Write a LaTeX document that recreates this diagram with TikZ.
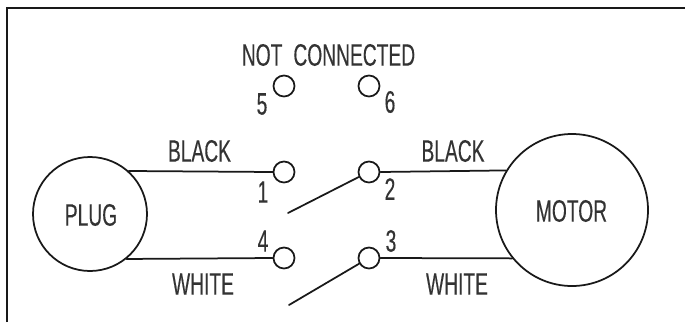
\documentclass[tikz,border=0pt]{standalone}
\usepackage{fontspec}
\setmainfont[FakeStretch=0.62,FakeBold=0.25]{Liberation Sans}
\begin{document}
\begin{tikzpicture}[x=1pt,y=-1pt,
  ink/.style={draw=black!90,line width=1.75pt},
  term/.style={circle,ink,minimum size=21pt,inner sep=0pt},
  device/.style={circle,ink,inner sep=0pt},
  lbl/.style={inner sep=0pt,text=black!80,font=\fontsize{31}{31}\selectfont},
  wire/.style={ink,line cap=round}]
\useasboundingbox (0,0) rectangle (685,322);
\fill[white] (0,0) rectangle (685,322);
\coordinate (fa) at (7,322);
\coordinate (fb) at (7,8);
\coordinate (fc) at (685,8);
\draw[ink] (fa) -- (fb) -- (fc);
\node[device,minimum size=114pt] (plug) at (90,214) {};
\node[device,minimum size=152pt] (motor) at (572,210) {};
\node[term] (t5) at (284,86) {};
\node[term] (t6) at (369,86) {};
\node[term] (t1) at (284,172) {};
\node[term] (t2) at (369,172) {};
\node[term] (t4) at (284,258) {};
\node[term] (t3) at (369,258) {};
\coordinate (s1) at (288,213);
\coordinate (s2) at (289,305);
\draw[wire] (plug.48.6) -- (t1.west);
\draw[wire] (plug.-51.8) -- (t4.west);
\draw[wire] (t2.east) -- (motor.149.6);
\draw[wire] (t3.east) -- (motor.219.8);
\draw[wire] (s1) -- (t2.206.8);
\draw[wire] (s2) -- (t3.210.4);
\node[lbl] (nc) at (328.5,55) {NOT\hspace{11pt}CONNECTED};
\node[lbl] (b1) at (199.5,151) {BLACK};
\node[lbl] (b2) at (453,151) {BLACK};
\node[lbl] (w1) at (203,284) {WHITE};
\node[lbl] (w2) at (457,284) {WHITE};
\node[lbl] (pl) at (91,215) {PLUG};
\node[lbl] (mo) at (571.5,211) {MOTOR};
\node[lbl] (n5) at (262,104) {5};
\node[lbl] (n6) at (390,102) {6};
\node[lbl] (n1) at (263,192) {1};
\node[lbl] (n2) at (390,189) {2};
\node[lbl] (n4) at (263,241) {4};
\node[lbl] (n3) at (391,241) {3};
\end{tikzpicture}
\end{document}
